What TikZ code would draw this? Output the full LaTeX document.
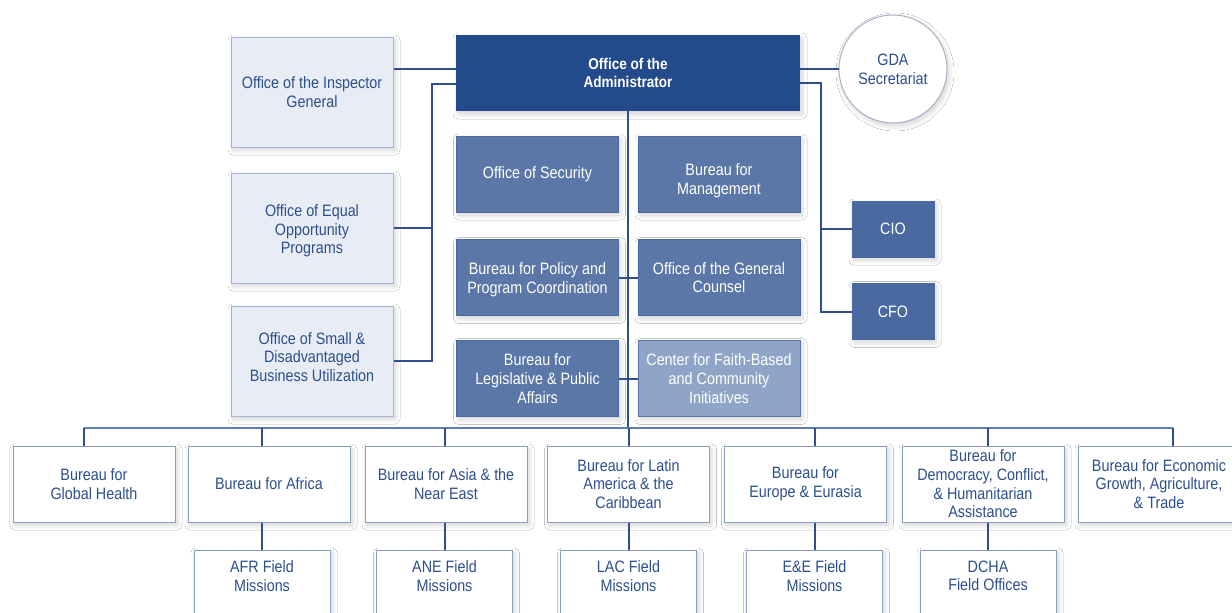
\documentclass[tikz,border=0pt]{standalone}
\usepackage{fontspec}
\setmainfont{Liberation Sans}[FakeStretch=0.87]
\usetikzlibrary{shadows.blur}
\definecolor{adminc}{HTML}{234B8B}
\definecolor{midc}{HTML}{5A77A8}
\definecolor{middc}{HTML}{4A69A0}
\definecolor{faithc}{HTML}{8FA5C8}
\definecolor{lightc}{HTML}{E8EDF5}
\definecolor{lightbc}{HTML}{A3B3D3}
\definecolor{txtc}{HTML}{2D4F8E}
\definecolor{wlinec}{HTML}{8A9DC5}
\definecolor{connc}{HTML}{2E4E8E}
\definecolor{busc}{HTML}{5F7DB0}
\definecolor{circc}{HTML}{A7AFC6}
\begin{document}
\begin{tikzpicture}[x=1pt,y=-1pt,
  every node/.style={font=\fontsize{16.5}{18.7}\selectfont, align=center, inner sep=0pt},
  every shadow/.style={fill=black!70!blue},
  shad/.style={blur shadow={shadow xshift=2pt, shadow yshift=-3pt, shadow opacity=18, shadow blur steps=10, shadow blur radius=5pt}},
  lightbox/.style={rectangle, shad, fill=lightc, draw=lightbc, line width=1pt, text=txtc, minimum width=162pt, minimum height=110pt},
  adminbox/.style={rectangle, shad, fill=adminc, text=white, minimum width=344pt, minimum height=76pt, font=\fontsize{15.6}{18.7}\selectfont\bfseries},
  midbox/.style={rectangle, shad, fill=midc, draw=middc, line width=1pt, text=white, minimum width=162pt, minimum height=76pt},
  smallbox/.style={rectangle, shad, fill=middc, draw=middc, line width=1pt, text=white, minimum width=82pt, minimum height=56pt},
  circbox/.style={circle, shad, fill=white, draw=circc, line width=1pt, text=txtc, minimum size=108pt},
  wbox/.style={rectangle, shad, fill=white, draw=wlinec, line width=1pt, text=txtc, minimum width=162pt, minimum height=76pt},
  fbox/.style={rectangle, shad, fill=white, draw=wlinec, line width=1pt, minimum width=136pt, minimum height=78pt},
  ftxt/.style={anchor=north, yshift=-11pt, text=txtc, align=center},
  conn/.style={draw=connc, line width=2pt},
  busline/.style={draw=busc, line width=2pt}
]
\useasboundingbox (0,0) rectangle (1232,613);
\fill[white] (0,0) rectangle (1232,613);
\clip (0,0) rectangle (1232,613);

% top
\node[adminbox] (admin) at (628,73) {Office of the\\Administrator};
\node[circbox] (gda) at (893,69) {GDA\\Secretariat};

% left column
\node[lightbox] (insp) at (312,92) {Office of the Inspector\\General};
\node[lightbox, label={[text=txtc, yshift=-3pt]center:{Office of Equal\\Opportunity\\Programs}}] (eeo) at (312,228) {};
\node[lightbox, label={[text=txtc, yshift=4pt]center:{Office of Small \&\\Disadvantaged\\Business Utilization}}] (osdbu) at (312,361) {};

% middle
\node[midbox] (sec) at (537.5,174) {Office of Security};
\node[midbox, label={[text=white, yshift=-7pt]center:{Bureau for\\Management}}] (mgmt) at (719,174) {};
\node[midbox, label={[text=white, yshift=-2pt]center:{Bureau for Policy and\\Program Coordination}}] (ppc) at (537.5,277.5) {};
\node[midbox] (gc) at (719,277.5) {Office of the General\\Counsel};
\node[midbox] (lpa) at (537.5,378.5) {Bureau for\\Legislative \& Public\\Affairs};
\node[midbox, fill=faithc, draw=midc] (fbci) at (719,378.5) {Center for Faith-Based\\and Community\\Initiatives};

% right
\node[smallbox] (cio) at (893,229) {CIO};
\node[smallbox] (cfo) at (893,311.5) {CFO};

% bureaus
\node[wbox] (gh) at (94,484) {Bureau for\\Global Health};
\node[wbox] (afr) at (269,484) {Bureau for Africa};
\node[wbox] (ane) at (446,484) {Bureau for Asia \& the\\Near East};
\node[wbox] (lac) at (628.5,484) {Bureau for Latin\\America \& the\\Caribbean};
\node[wbox] (ee) at (805.5,484) {Bureau for\\Europe \& Eurasia};
\node[wbox] (dcha) at (983,484) {Bureau for\\Democracy, Conflict,\\\& Humanitarian\\Assistance};
\node[wbox] (egat) at (1159,484) {Bureau for Economic\\Growth, Agriculture,\\\& Trade};

% field offices
\node[fbox, label={[ftxt]north:{AFR Field\\Missions}}] (afrf) at (262,589) {};
\node[fbox, label={[ftxt]north:{ANE Field\\Missions}}] (anef) at (444.5,589) {};
\node[fbox, label={[ftxt]north:{LAC Field\\Missions}}] (lacf) at (628.5,589) {};
\node[fbox, label={[ftxt]north:{E\&E Field\\Missions}}] (eef) at (814.5,589) {};
\node[fbox, label={[ftxt]north:{DCHA\\Field Offices}}] (dchaf) at (988,589) {};

% junctions
\coordinate (jl) at (432,84);
\coordinate (jr) at (821,83);
\coordinate (busL) at (84,428);
\coordinate (busR) at (1173,428);

% connectors
\draw[conn] (admin.west |- gda.west) -- (insp.east |- gda.west);
\draw[conn] (admin.west |- jl) -- (jl) |- (osdbu.east);
\draw[conn] (jl |- eeo.east) -- (eeo.east);
\draw[conn] (admin.east |- gda.west) -- (gda.west);
\draw[conn] (admin.east |- jr) -- (jr) |- (cfo.west);
\draw[conn] (jr |- cio.west) -- (cio.west);
\draw[conn] (admin.south) -- (admin.south |- busL);
\draw[conn] (ppc.east) -- (gc.west);
\draw[conn] (lpa.east) -- (fbci.west);
\draw[busline] (busL) -- (busR);
\draw[conn] (busL) -- (busL |- gh.north);
\draw[conn] (busR) -- (busR |- egat.north);
\foreach \a/\b in {afr/afrf, ane/anef, lac/lacf, ee/eef, dcha/dchaf} {
  \draw[conn] (\b.north |- busL) -- (\b.north |- \a.north);
  \draw[conn] (\a.south -| \b.north) -- (\b.north);
}
\end{tikzpicture}
\end{document}
